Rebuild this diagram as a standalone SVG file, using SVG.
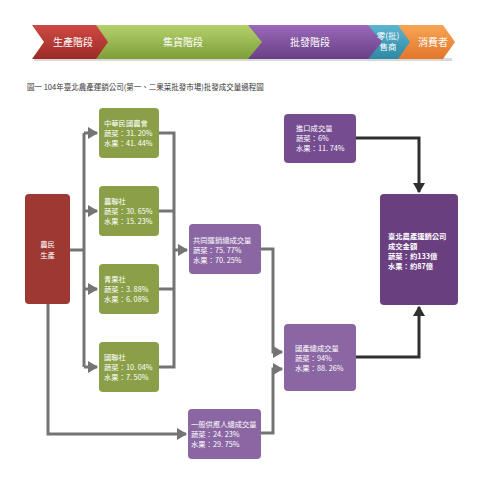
<svg xmlns="http://www.w3.org/2000/svg" width="490" height="480" viewBox="0 0 490 480">
<defs>
<linearGradient id="gRed" x1="0" y1="0" x2="0" y2="1"><stop offset="0" stop-color="#cf4a44"/><stop offset="1" stop-color="#9c2a26"/></linearGradient>
<linearGradient id="gGreen" x1="0" y1="0" x2="0" y2="1"><stop offset="0" stop-color="#b5d16c"/><stop offset="1" stop-color="#7d9e38"/></linearGradient>
<linearGradient id="gPurple" x1="0" y1="0" x2="0" y2="1"><stop offset="0" stop-color="#9a6ab8"/><stop offset="1" stop-color="#6a3e87"/></linearGradient>
<linearGradient id="gTeal" x1="0" y1="0" x2="0" y2="1"><stop offset="0" stop-color="#5cb6d0"/><stop offset="1" stop-color="#2e88a4"/></linearGradient>
<linearGradient id="gOrange" x1="0" y1="0" x2="0" y2="1"><stop offset="0" stop-color="#f8a557"/><stop offset="1" stop-color="#e2762a"/></linearGradient>
<marker id="ag" markerWidth="4" markerHeight="4" refX="3" refY="2" orient="auto" markerUnits="strokeWidth"><path d="M0,0 L3.4,2 L0,4 Z" fill="#747474"/></marker>
<marker id="ad" markerWidth="4" markerHeight="4" refX="3" refY="2" orient="auto" markerUnits="strokeWidth"><path d="M0,0 L3.4,2 L0,4 Z" fill="#2f2f2f"/></marker>
</defs>
<style>
.bt{font-family:"Noto Sans CJK TC","Noto Sans CJK SC",sans-serif;font-size:10px;fill:#fff;text-anchor:middle}
.bs{font-family:"Noto Sans CJK TC","Noto Sans CJK SC",sans-serif;font-size:8.5px;fill:#fff;text-anchor:middle}
.t{font-family:"Noto Sans CJK TC","Noto Sans CJK SC",sans-serif;font-size:7.3px;fill:#fff}
.tb{font-family:"Noto Sans CJK TC","Noto Sans CJK SC",sans-serif;font-size:7.3px;fill:#fff;font-weight:bold}
.title{font-family:"Noto Sans CJK TC","Noto Sans CJK SC",sans-serif;font-size:7.5px;fill:#333}
.green{fill:#8a9f47}
.red{fill:#9e3832}
.plight{fill:#8a66a2}
.pdark{fill:#754c90}
.pdeep{fill:#6a3f80}
.cg{fill:none;stroke:#747474;stroke-width:3}
.cd{fill:none;stroke:#2f2f2f;stroke-width:3}
</style>
<rect width="490" height="480" fill="#fff"/>
<g id="banner">
<rect x="34" y="58" width="418" height="3" fill="#d9d9d9"/>
<polygon points="398,25 443,25 455,42 443,59 398,59" fill="url(#gOrange)"/>
<polygon points="366,25 398,25 410,42 398,59 366,59" fill="url(#gTeal)"/>
<polygon points="246,25 368,25 382,42 368,59 246,59" fill="url(#gPurple)"/>
<polygon points="92,25 248,25 262,42 248,59 92,59" fill="url(#gGreen)"/>
<polygon points="32,25 96,25 108,42 96,59 32,59 44,42" fill="url(#gRed)"/>
<text class="bt" x="73" y="46">生產階段</text>
<text class="bt" x="183" y="46">集貨階段</text>
<text class="bt" x="310" y="46">批發階段</text>
<text class="bs" x="388" y="39">零(批)</text>
<text class="bs" x="388" y="50">售商</text>
<text class="bt" x="433" y="46">消費者</text>
</g>
<text class="title" x="27" y="90">圖一 104年臺北農產運銷公司(第一、二果菜批發市場)批發成交量過程圖</text>
<g id="connectors">
<path class="cg" d="M70,250 H84"/>
<path class="cg" d="M84,133 V367"/>
<path class="cg" d="M84,133 H97" marker-end="url(#ag)"/>
<path class="cg" d="M84,211 H97" marker-end="url(#ag)"/>
<path class="cg" d="M84,289 H97" marker-end="url(#ag)"/>
<path class="cg" d="M84,367 H97" marker-end="url(#ag)"/>
<path class="cg" d="M159,133 H174 V367 H159"/>
<path class="cg" d="M159,211 H174"/>
<path class="cg" d="M159,289 H174"/>
<path class="cg" d="M174,250 H187" marker-end="url(#ag)"/>
<path class="cg" d="M48,304 V434 H186" marker-end="url(#ag)"/>
<path class="cg" d="M261,249 H273 V352 H282" marker-end="url(#ag)"/>
<path class="cg" d="M261,433 H273 V369 H282" marker-end="url(#ag)"/>
<path class="cd" d="M356,357 H419 V307" marker-end="url(#ad)"/>
<path class="cd" d="M356,138 H419 V192" marker-end="url(#ad)"/>
</g>
<g id="farmer">
<rect class="red" x="25" y="194" width="45" height="110" rx="4"/>
<text class="t" x="47.5" y="247" text-anchor="middle">農民</text>
<text class="t" x="47.5" y="258" text-anchor="middle">生產</text>
</g>
<g id="n1">
<rect class="green" x="99" y="108" width="60" height="50" rx="4"/>
<text class="t" x="104" y="126">中華民國農會</text>
<text class="t" x="104" y="136">蔬菜：31. 20%</text>
<text class="t" x="104" y="146">水果：41. 44%</text>
</g>
<g id="n2">
<rect class="green" x="99" y="186" width="60" height="50" rx="4"/>
<text class="t" x="104" y="204">農聯社</text>
<text class="t" x="104" y="214">蔬菜：30. 65%</text>
<text class="t" x="104" y="224">水果：15. 23%</text>
</g>
<g id="n3">
<rect class="green" x="99" y="264" width="60" height="50" rx="4"/>
<text class="t" x="104" y="282">青果社</text>
<text class="t" x="104" y="292">蔬菜：3. 88%</text>
<text class="t" x="104" y="302">水果：6. 08%</text>
</g>
<g id="n4">
<rect class="green" x="99" y="342" width="60" height="50" rx="4"/>
<text class="t" x="104" y="360">國聯社</text>
<text class="t" x="104" y="370">蔬菜：10. 04%</text>
<text class="t" x="104" y="380">水果：7. 50%</text>
</g>
<g id="joint">
<rect class="plight" x="189" y="224" width="72" height="50" rx="4"/>
<text class="t" x="193" y="243">共同運銷總成交量</text>
<text class="t" x="193" y="253">蔬菜：75. 77%</text>
<text class="t" x="193" y="263">水果：70. 25%</text>
</g>
<g id="general">
<rect class="plight" x="188" y="409" width="73" height="50" rx="4"/>
<text class="t" x="191" y="427">一般供應人總成交量</text>
<text class="t" x="191" y="437">蔬菜：24. 23%</text>
<text class="t" x="191" y="447">水果：29. 75%</text>
</g>
<g id="domestic">
<rect class="plight" x="284" y="324" width="72" height="67" rx="4"/>
<text class="t" x="295" y="351">國產總成交量</text>
<text class="t" x="295" y="361">蔬菜：94%</text>
<text class="t" x="295" y="371">水果：88. 26%</text>
</g>
<g id="import">
<rect class="pdark" x="284" y="114" width="72" height="49" rx="4"/>
<text class="t" x="296" y="131">進口成交量</text>
<text class="t" x="296" y="141">蔬菜：6%</text>
<text class="t" x="296" y="151">水果：11. 74%</text>
</g>
<g id="taipei">
<rect class="pdeep" x="380" y="194" width="78" height="111" rx="4"/>
<text class="tb" x="388" y="239">臺北農產運銷公司</text>
<text class="tb" x="388" y="249">成交金額</text>
<text class="tb" x="388" y="259">蔬菜：約133億</text>
<text class="tb" x="388" y="269">水果：約87億</text>
</g>
</svg>
